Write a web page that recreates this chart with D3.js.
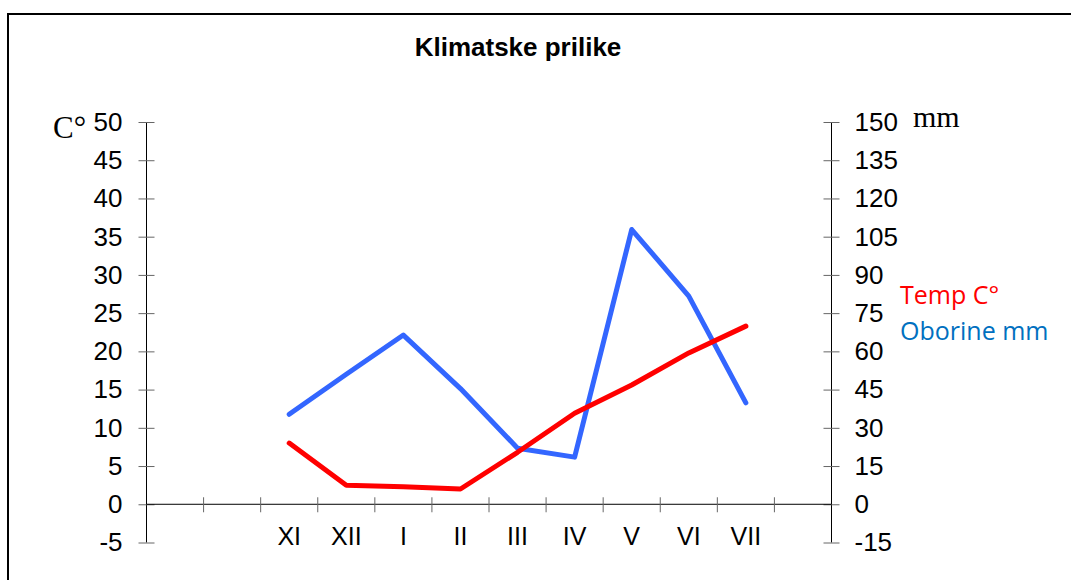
<!DOCTYPE html>
<html>
<head>
<meta charset="utf-8">
<script src="https://cdn.jsdelivr.net/npm/d3@7"></script>
<style>
  html, body { margin: 0; padding: 0; background: #fff; }
  svg { display: block; }
</style>
</head>
<body>
<svg id="chart" width="1071" height="580"></svg>
<script>
// ---- data ----
const categories = ["", "", "XI", "XII", "I", "II", "III", "IV", "V", "VI", "VII", ""];
const tempC = [null, null, 8.0, 2.5, 2.3, 2.0, 6.8, 11.9, 15.6, 19.8, 23.3, null];
const precipMm = [null, null, 35.3, 51, 66.4, 45.4, 22, 18.5, 107.8, 81.7, 39.8, null];
const leftTicks = [-5, 0, 5, 10, 15, 20, 25, 30, 35, 40, 45, 50];
const rightTicks = [-15, 0, 15, 30, 45, 60, 75, 90, 105, 120, 135, 150];
const titleText = "Klimatske prilike";
const seriesNames = ["Temp C°", "Oborine mm"];

// ---- layout ----
const svg = d3.select("#chart");
const L = 146.5, R = 831.5, T = 122, B = 542.5;

// frame
svg.append("rect").attr("x", 8).attr("y", 14).attr("width", 1080).attr("height", 600)
  .attr("fill", "none").attr("stroke", "#000").attr("stroke-width", 2);

const x = d3.scaleBand().domain(d3.range(categories.length)).range([L, R]).padding(0);
const yL = d3.scaleLinear().domain([-5, 50]).range([B, T]);
const yR = d3.scaleLinear().domain([-15, 150]).range([B, T]);

// title
svg.append("text").attr("x", 518).attr("y", 56).attr("text-anchor", "middle")
  .attr("font-family", "Liberation Sans, Arial, sans-serif").attr("font-weight", "bold")
  .attr("font-size", 26).text(titleText);

const fmt = d => String(d);

// left axis
const gL = svg.append("g").attr("transform", `translate(${L},0)`)
  .call(d3.axisLeft(yL).tickValues(leftTicks).tickSize(8).tickPadding(16).tickFormat(fmt));
gL.select(".domain").attr("d", `M0,${T}V${B}`).attr("stroke", "#000");
gL.selectAll(".tick line").attr("x1", -8).attr("x2", 8).attr("stroke", "#666");
gL.selectAll(".tick text").attr("font-family", "Liberation Sans, Arial, sans-serif")
  .attr("font-size", 26).attr("fill", "#000");

// right axis
const gR = svg.append("g").attr("transform", `translate(${R},0)`)
  .call(d3.axisRight(yR).tickValues(rightTicks).tickSize(8).tickPadding(15).tickFormat(fmt));
gR.select(".domain").attr("d", `M0,${T}V${B}`).attr("stroke", "#000");
gR.selectAll(".tick line").attr("x1", -8).attr("x2", 8).attr("stroke", "#666");
gR.selectAll(".tick text").attr("font-family", "Liberation Sans, Arial, sans-serif")
  .attr("font-size", 26).attr("fill", "#000");

// x axis at zero
const y0 = yL(0);
const gX = svg.append("g").attr("transform", `translate(0,${y0})`)
  .call(d3.axisBottom(x).tickFormat(i => categories[i]).tickSize(0).tickPadding(23));
gX.select(".domain").attr("d", `M${L},0H${R}`).attr("stroke", "#000");
gX.selectAll(".tick text").attr("font-family", "Liberation Sans, Arial, sans-serif")
  .attr("font-size", 25).attr("fill", "#000");
// category boundary ticks
const bounds = d3.range(1, categories.length).map(i => x(i));
gX.selectAll("line.bnd").data(bounds).join("line").attr("class", "bnd")
  .attr("x1", d => d).attr("x2", d => d).attr("y1", -7).attr("y2", 8)
  .attr("stroke", "#666").attr("stroke-width", 1);

// unit labels
svg.append("text").attr("x", 53).attr("y", 138).attr("font-family", "Liberation Serif, Times New Roman, serif")
  .attr("font-size", 31).text("C°");
svg.append("text").attr("x", 913).attr("y", 127).attr("font-family", "Liberation Serif, Times New Roman, serif")
  .attr("font-size", 30).text("mm");

// lines
const cx = i => x(i) + x.bandwidth() / 2;
const lineT = d3.line().defined(d => d != null).x((d, i) => cx(i)).y(d => yL(d));
const lineP = d3.line().defined(d => d != null).x((d, i) => cx(i)).y(d => yR(d));

svg.append("path").datum(precipMm).attr("d", lineP).attr("fill", "none")
  .attr("stroke", "#3366ff").attr("stroke-width", 5).attr("stroke-linejoin", "round").attr("stroke-linecap", "round");
svg.append("path").datum(tempC).attr("d", lineT).attr("fill", "none")
  .attr("stroke", "#ff0000").attr("stroke-width", 5).attr("stroke-linejoin", "round").attr("stroke-linecap", "round");

// legend
const legendColors = ["#ff0000", "#0070c0"];
svg.selectAll("text.leg").data(seriesNames).join("text").attr("class", "leg")
  .attr("x", 900).attr("y", (d, i) => 304 + i * 36)
  .attr("font-family", "Open Sans, Noto Sans, sans-serif").attr("font-size", 25)
  .attr("fill", (d, i) => legendColors[i]).text(d => d);
</script>
</body>
</html>
